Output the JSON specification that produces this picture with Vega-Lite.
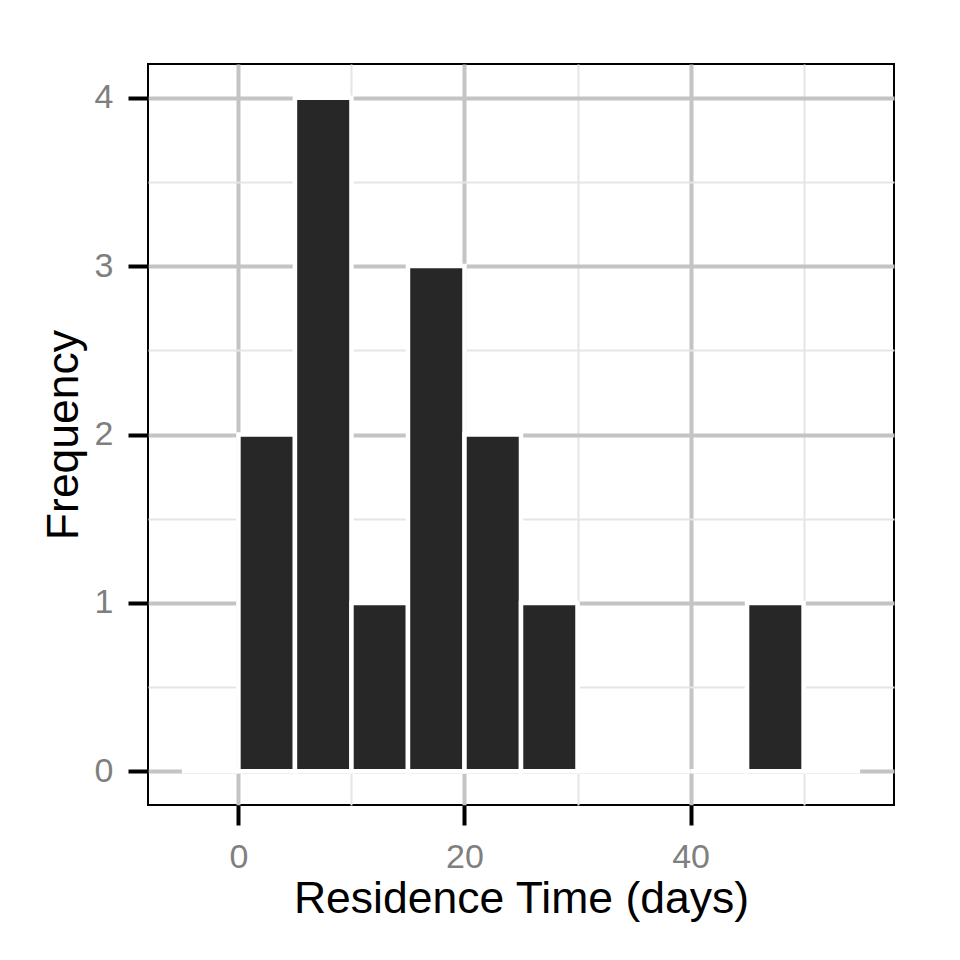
{
  "$schema": "https://vega.github.io/schema/vega-lite/v6.json",
  "autosize": {"type": "none"},
  "width": 746,
  "height": 741,
  "padding": {"left": 148, "top": 64, "right": 66, "bottom": 155},
  "background": "white",
  "config": {
    "view": {"stroke": "black", "strokeWidth": 2},
    "font": "Liberation Sans"
  },
  "data": {
    "values": [
      {"bin_start": -5, "bin_end": 0, "count": 0},
      {"bin_start": 0, "bin_end": 5, "count": 2},
      {"bin_start": 5, "bin_end": 10, "count": 4},
      {"bin_start": 10, "bin_end": 15, "count": 1},
      {"bin_start": 15, "bin_end": 20, "count": 3},
      {"bin_start": 20, "bin_end": 25, "count": 2},
      {"bin_start": 25, "bin_end": 30, "count": 1},
      {"bin_start": 30, "bin_end": 35, "count": 0},
      {"bin_start": 35, "bin_end": 40, "count": 0},
      {"bin_start": 40, "bin_end": 45, "count": 0},
      {"bin_start": 45, "bin_end": 50, "count": 1},
      {"bin_start": 50, "bin_end": 55, "count": 0}
    ]
  },
  "layer": [
    {
      "mark": {"type": "bar", "opacity": 0},
      "encoding": {
        "x": {
          "field": "bin_start", "type": "quantitative",
          "scale": {"domain": [-8, 58], "nice": false, "zero": false},
          "axis": {"orient": "top", "values": [10, 30, 50], "grid": true, "gridColor": "#E5E5E5", "gridWidth": 2,
                   "labels": false, "ticks": false, "domain": false, "title": null}
        },
        "x2": {"field": "bin_end"},
        "y": {
          "field": "count", "type": "quantitative",
          "scale": {"domain": [-0.2, 4.2], "nice": false, "zero": false, "padding": 0},
          "axis": {"orient": "right", "values": [0.5, 1.5, 2.5, 3.5], "grid": true, "gridColor": "#E5E5E5", "gridWidth": 2,
                   "labels": false, "ticks": false, "domain": false, "title": null}
        },
        "y2": {"datum": 0}
      }
    },
    {
      "mark": {"type": "bar", "fill": "#272727", "stroke": "white", "strokeWidth": 4.5},
      "encoding": {
        "x": {
          "field": "bin_start", "type": "quantitative",
          "scale": {"domain": [-8, 58], "nice": false, "zero": false},
          "axis": {
            "orient": "bottom", "values": [0, 20, 40], "grid": true, "gridColor": "#C4C4C4", "gridWidth": 4,
            "domain": false, "ticks": true, "tickColor": "black", "tickWidth": 4, "tickSize": 20,
            "labelFont": "Liberation Sans", "labelFontSize": 34, "labelColor": "#7F7F7F", "labelPadding": 15,
            "title": "Residence Time (days)", "titleFont": "Liberation Sans", "titleFontSize": 44.5,
            "titleFontWeight": "normal", "titleColor": "black", "titleBaseline": "alphabetic", "titleY": 107
          }
        },
        "x2": {"field": "bin_end"},
        "y": {
          "field": "count", "type": "quantitative",
          "scale": {"domain": [-0.2, 4.2], "nice": false, "zero": false, "padding": 0},
          "axis": {
            "orient": "left", "values": [0, 1, 2, 3, 4], "grid": true, "gridColor": "#C4C4C4", "gridWidth": 4,
            "domain": false, "ticks": true, "tickColor": "black", "tickWidth": 4, "tickSize": 20,
            "labelFont": "Liberation Sans", "labelFontSize": 34, "labelColor": "#7F7F7F", "labelPadding": 15,
            "title": "Frequency", "titleFont": "Liberation Sans", "titleFontSize": 44.5,
            "titleFontWeight": "normal", "titleColor": "black", "titleBaseline": "alphabetic",
            "titleAngle": 270, "titleX": -71, "titleY": 370.5
          }
        },
        "y2": {"datum": 0}
      }
    }
  ],
  "resolve": {"axis": {"x": "independent", "y": "independent"}}
}
